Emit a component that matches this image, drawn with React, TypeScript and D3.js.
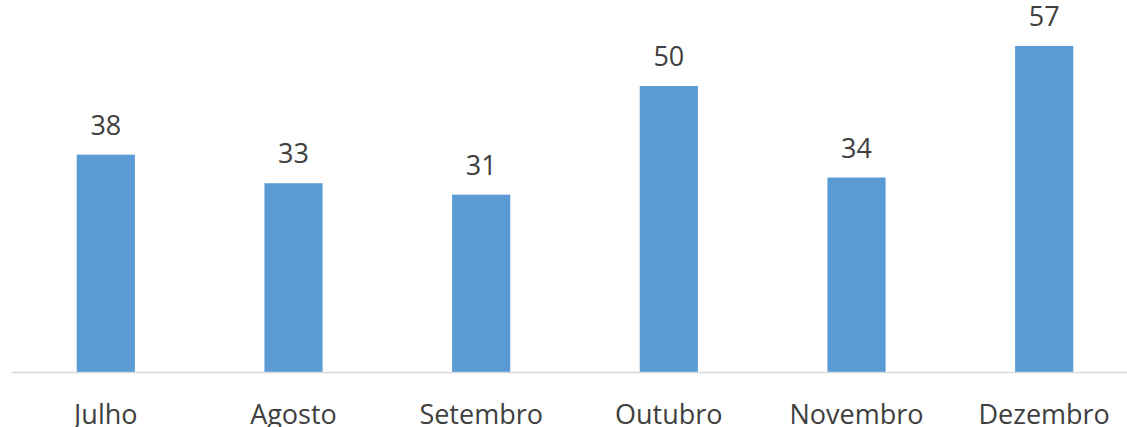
import React from 'react';
import * as d3 from 'd3';

const months = ['Julho', 'Agosto', 'Setembro', 'Outubro', 'Novembro', 'Dezembro'];
const counts = [38, 33, 31, 50, 34, 57];

const width = 1127;
const height = 427;
const baseY = 372;

export default function App() {
  const x = d3.scaleBand<string>()
    .domain(months)
    .range([12, 1138])
    .paddingInner(0.69)
    .paddingOuter(0.345);

  const y = d3.scaleLinear()
    .domain([0, 60])
    .range([baseY, baseY - 60 * 5.72]);

  const font = '"Open Sans", sans-serif';

  return (
    <svg width={width} height={height} style={{ position: 'absolute', left: 0, top: 0 }}>
      <rect width={width} height={height} fill="#fff" />
      {months.map((m, i) => (
        <g key={m}>
          <rect
            x={x(m)}
            y={y(counts[i])}
            width={x.bandwidth()}
            height={baseY - y(counts[i])}
            fill="#5b9bd5"
          />
          <text
            x={(x(m) ?? 0) + x.bandwidth() / 2}
            y={y(counts[i]) - 20}
            textAnchor="middle"
            fontFamily={font}
            fontSize={27}
            fill="#404040"
          >
            {counts[i]}
          </text>
          <text
            x={(x(m) ?? 0) + x.bandwidth() / 2}
            y={424}
            textAnchor="middle"
            fontFamily={font}
            fontSize={27}
            fill="#404040"
          >
            {m}
          </text>
        </g>
      ))}
      <line x1={12} x2={width} y1={baseY + 0.5} y2={baseY + 0.5} stroke="#d9d9d9" strokeWidth={1.5} />
    </svg>
  );
}
